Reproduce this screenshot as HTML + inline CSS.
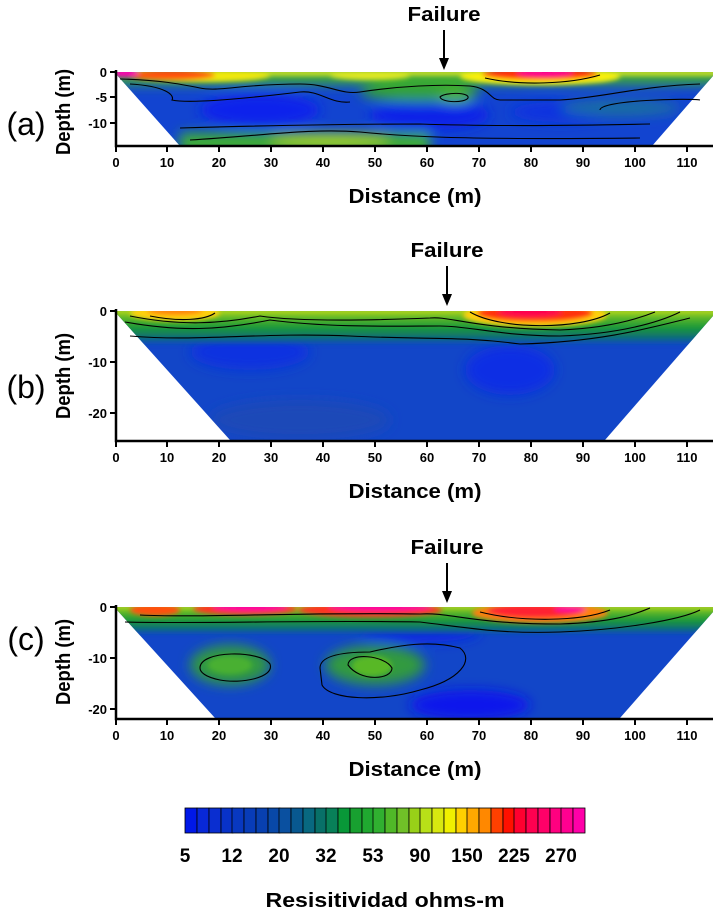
<!DOCTYPE html>
<html><head><meta charset="utf-8"><style>
body{margin:0;background:#fff;}
svg text{font-family:"Liberation Sans",Arial,sans-serif;}
</style></head><body>
<svg width="723" height="914" viewBox="0 0 723 914" xmlns="http://www.w3.org/2000/svg">
<defs>
<filter id="b1" x="-50%" y="-50%" width="200%" height="200%"><feGaussianBlur stdDeviation="6"/></filter>
<filter id="b2" x="-50%" y="-50%" width="200%" height="200%"><feGaussianBlur stdDeviation="2.5"/></filter>
<clipPath id="ca"><polygon points="116,72 713,72 713,76 652,146 180,146 116,74"/></clipPath>
<clipPath id="cb"><polygon points="116,311 713,311 713,316 605,440 230,440 116,313"/></clipPath>
<clipPath id="cc"><polygon points="116,607 713,607 713,612 620,718 215,718 116,609"/></clipPath>
<linearGradient id="gb" x1="0" y1="0" x2="0" y2="1">
<stop offset="0" stop-color="#d8e810"/><stop offset="0.25" stop-color="#60b828"/><stop offset="0.55" stop-color="#189838"/><stop offset="0.8" stop-color="#107070"/><stop offset="1" stop-color="#1048c0"/>
</linearGradient>
</defs>

<!-- Panel a -->
<g clip-path="url(#ca)">
<rect x="110" y="70" width="610" height="80" fill="#1244d0"/>
<g filter="url(#b1)">
<ellipse cx="260" cy="110" rx="60" ry="16" fill="#0a22ec"/>
<ellipse cx="430" cy="115" rx="60" ry="15" fill="#0a24e8"/>
<ellipse cx="560" cy="112" rx="50" ry="10" fill="#0a30e0"/>
<rect x="180" y="133" width="250" height="20" fill="#40b030"/>
<ellipse cx="330" cy="140" rx="60" ry="6" fill="#a8d820"/>
<rect x="110" y="68" width="610" height="16" fill="#40b030"/>
<ellipse cx="420" cy="92" rx="60" ry="10" fill="#30a038"/>
<ellipse cx="455" cy="97" rx="18" ry="6" fill="#50b828"/>
<ellipse cx="620" cy="108" rx="60" ry="8" fill="#1a70a0"/>
</g>
<g filter="url(#b2)">
<rect x="110" y="70" width="610" height="6" fill="#c8e020"/>
<ellipse cx="200" cy="76" rx="70" ry="6" fill="#f0e810"/>
<ellipse cx="170" cy="75" rx="45" ry="5" fill="#ff5010"/>
<ellipse cx="125" cy="73" rx="14" ry="4" fill="#ff00b0"/>
<ellipse cx="540" cy="77" rx="80" ry="8" fill="#f8f010"/>
<ellipse cx="540" cy="74" rx="58" ry="6" fill="#ff3010"/>
<ellipse cx="545" cy="73" rx="28" ry="4" fill="#ff0090"/>
<ellipse cx="370" cy="76" rx="40" ry="4" fill="#e0e820"/>
</g>
</g>
<g fill="none" stroke="#000" stroke-width="1.1">
<path d="M120,79 C160,80 180,84 200,88 C220,92 240,84 300,84 C330,84 340,95 360,92 C400,86 440,84 470,86 C490,88 490,100 500,100 L560,100 C600,98 640,86 700,84"/>
<path d="M130,84 C165,86 175,95 172,100 C190,104 250,98 300,92 C320,90 330,104 350,102"/>
<path d="M180,128 C250,126 350,124 420,124 C480,126 560,126 650,124"/>
<path d="M190,140 C260,136 310,128 360,132 C400,136 450,140 640,138"/>
<path d="M440,97 C445,92 470,92 468,98 C465,103 442,103 440,97Z"/>
<path d="M485,78 C520,86 570,84 600,75"/>
<path d="M600,110 C600,100 690,98 700,100"/>
</g>

<!-- Panel b -->
<g clip-path="url(#cb)">
<rect x="110" y="305" width="610" height="140" fill="#1246c8"/>
<g filter="url(#b1)">
<ellipse cx="510" cy="370" rx="45" ry="25" fill="#0a2ee4"/>
<ellipse cx="250" cy="352" rx="60" ry="18" fill="#0a30e0"/>
<ellipse cx="300" cy="420" rx="90" ry="20" fill="#1a48b8"/>
</g>
<rect x="110" y="308" width="610" height="36" fill="url(#gb)" filter="url(#b2)"/>
<g filter="url(#b2)">
<ellipse cx="175" cy="313" rx="45" ry="8" fill="#ffd010"/>
<ellipse cx="175" cy="311" rx="28" ry="4" fill="#ff8010"/>
<ellipse cx="535" cy="315" rx="72" ry="12" fill="#ffd010"/>
<ellipse cx="535" cy="313" rx="58" ry="9" fill="#ff3010"/>
<ellipse cx="530" cy="312" rx="32" ry="5" fill="#ff0050"/>
</g>
</g>
<g fill="none" stroke="#000" stroke-width="1.1">
<path d="M130,336 C200,342 260,332 350,336 C430,340 460,336 520,344 C600,342 650,328 690,318"/>
<path d="M125,322 C180,332 220,330 270,320 C330,328 400,326 440,326 C470,326 500,336 560,336 C620,334 660,322 680,312"/>
<path d="M130,316 C180,326 220,324 260,316 C300,322 380,320 430,318 C450,316 470,328 560,330 C610,328 640,318 655,312"/>
<path d="M150,316 C180,322 205,320 215,313"/>
<path d="M470,312 C500,330 580,330 610,313"/>
</g>

<!-- Panel c -->
<g clip-path="url(#cc)">
<rect x="110" y="600" width="610" height="125" fill="#1246c8"/>
<g filter="url(#b1)">
<ellipse cx="470" cy="705" rx="60" ry="15" fill="#0a18ec"/>
<ellipse cx="420" cy="632" rx="60" ry="10" fill="#0a28e4"/>
<ellipse cx="230" cy="665" rx="40" ry="20" fill="#309a40"/>
<ellipse cx="375" cy="665" rx="50" ry="20" fill="#309a40"/>
</g>
<rect x="110" y="604" width="610" height="30" fill="url(#gb)" filter="url(#b2)"/>
<g filter="url(#b2)">
<ellipse cx="230" cy="665" rx="22" ry="9" fill="#48b030"/>
<ellipse cx="372" cy="666" rx="20" ry="10" fill="#58b828"/>
<ellipse cx="155" cy="610" rx="25" ry="6" fill="#ff5010"/>
<ellipse cx="245" cy="609" rx="52" ry="6" fill="#ff3020"/>
<ellipse cx="250" cy="607" rx="38" ry="4" fill="#ff00a0"/>
<ellipse cx="370" cy="610" rx="72" ry="7" fill="#ff3020"/>
<ellipse cx="380" cy="607" rx="52" ry="4" fill="#ff00a0"/>
<ellipse cx="540" cy="613" rx="68" ry="10" fill="#ff8010"/>
<ellipse cx="535" cy="611" rx="48" ry="7" fill="#ff2030"/>
<ellipse cx="570" cy="609" rx="16" ry="3" fill="#ff00a0"/>
</g>
</g>
<g fill="none" stroke="#000" stroke-width="1.1">
<path d="M125,622 C200,624 300,620 420,622 C470,628 500,634 560,632 C620,630 680,620 700,610"/>
<path d="M140,615 C200,618 300,612 420,614 C450,612 470,624 560,624 C620,622 640,612 650,608"/>
<path d="M480,612 C520,622 580,622 610,610"/>
<path d="M200,668 C200,650 260,650 270,664 C275,678 240,684 220,680 C205,677 200,672 200,668Z"/>
<path d="M320,668 C320,655 345,652 370,652 C400,645 430,640 460,648 C475,660 460,680 420,690 C380,702 330,700 322,685Z"/>
<path d="M348,665 C348,652 385,655 392,668 C392,680 360,682 348,665Z"/>
</g>

<!-- Axes -->
<g stroke="#000" stroke-width="2.5" fill="none">
<path d="M116,70 V146 H713"/>
<path d="M116,309 V441 H713"/>
<path d="M116,605 V719 H713"/>
</g>
<g stroke="#000" stroke-width="2">
<path d="M110,72H116 M110,97H116 M110,123H116"/>
<path d="M110,311H116 M110,362H116 M110,413H116"/>
<path d="M110,607H116 M110,658H116 M110,709H116"/>
</g>
<g stroke="#000" stroke-width="2">
<path d="M116,146v6 M167,146v6 M219,146v6 M271,146v6 M323,146v6 M375,146v6 M427,146v6 M479,146v6 M531,146v6 M583,146v6 M635,146v6 M687,146v6"/>
<path d="M116,441v6 M167,441v6 M219,441v6 M271,441v6 M323,441v6 M375,441v6 M427,441v6 M479,441v6 M531,441v6 M583,441v6 M635,441v6 M687,441v6"/>
<path d="M116,719v6 M167,719v6 M219,719v6 M271,719v6 M323,719v6 M375,719v6 M427,719v6 M479,719v6 M531,719v6 M583,719v6 M635,719v6 M687,719v6"/>
</g>
<g font-size="13" font-weight="bold" text-anchor="middle">
<text x="116" y="167">0</text><text x="167" y="167">10</text><text x="219" y="167">20</text><text x="271" y="167">30</text><text x="323" y="167">40</text><text x="375" y="167">50</text><text x="427" y="167">60</text><text x="479" y="167">70</text><text x="531" y="167">80</text><text x="583" y="167">90</text><text x="635" y="167">100</text><text x="687" y="167">110</text>
<text x="116" y="462">0</text><text x="167" y="462">10</text><text x="219" y="462">20</text><text x="271" y="462">30</text><text x="323" y="462">40</text><text x="375" y="462">50</text><text x="427" y="462">60</text><text x="479" y="462">70</text><text x="531" y="462">80</text><text x="583" y="462">90</text><text x="635" y="462">100</text><text x="687" y="462">110</text>
<text x="116" y="740">0</text><text x="167" y="740">10</text><text x="219" y="740">20</text><text x="271" y="740">30</text><text x="323" y="740">40</text><text x="375" y="740">50</text><text x="427" y="740">60</text><text x="479" y="740">70</text><text x="531" y="740">80</text><text x="583" y="740">90</text><text x="635" y="740">100</text><text x="687" y="740">110</text>
</g>
<g font-size="13" font-weight="bold" text-anchor="end">
<text x="107" y="77">0</text><text x="107" y="102">-5</text><text x="107" y="128">-10</text>
<text x="107" y="316">0</text><text x="107" y="367">-10</text><text x="107" y="418">-20</text>
<text x="107" y="612">0</text><text x="107" y="663">-10</text><text x="107" y="714">-20</text>
</g>
<g font-size="20" font-weight="bold" text-anchor="middle">
<text x="415" y="203" textLength="133" lengthAdjust="spacingAndGlyphs">Distance (m)</text>
<text x="415" y="498" textLength="133" lengthAdjust="spacingAndGlyphs">Distance (m)</text>
<text x="415" y="776" textLength="133" lengthAdjust="spacingAndGlyphs">Distance (m)</text>
<text x="444" y="21" textLength="73" lengthAdjust="spacingAndGlyphs">Failure</text>
<text x="447" y="257" textLength="73" lengthAdjust="spacingAndGlyphs">Failure</text>
<text x="447" y="554" textLength="73" lengthAdjust="spacingAndGlyphs">Failure</text>
<text transform="translate(70,112) rotate(-90)" textLength="86" lengthAdjust="spacingAndGlyphs">Depth (m)</text>
<text transform="translate(70,376) rotate(-90)" textLength="86" lengthAdjust="spacingAndGlyphs">Depth (m)</text>
<text transform="translate(70,662) rotate(-90)" textLength="86" lengthAdjust="spacingAndGlyphs">Depth (m)</text>
<text x="385" y="907" textLength="239" lengthAdjust="spacingAndGlyphs">Resisitividad ohms-m</text>
</g>
<g font-size="32" text-anchor="middle">
<text x="26" y="135">(a)</text>
<text x="26" y="398">(b)</text>
<text x="26" y="650">(c)</text>
</g>
<g stroke="#000" stroke-width="2">
<path d="M444,30V60 M447,266V296 M447,563V593"/>
</g>
<g fill="#000">
<polygon points="439,58 449,58 444,70"/>
<polygon points="442,294 452,294 447,306"/>
<polygon points="442,591 452,591 447,603"/>
</g>

<!-- Colorbar -->
<g stroke="#000" stroke-width="0.8">
<rect x="185" y="808" width="12" height="25" fill="#0018e8"/><rect x="197" y="808" width="12" height="25" fill="#0828d8"/><rect x="209" y="808" width="12" height="25" fill="#0a2ed0"/><rect x="221" y="808" width="12" height="25" fill="#0832c8"/><rect x="232" y="808" width="12" height="25" fill="#0838c0"/><rect x="244" y="808" width="12" height="25" fill="#083cb8"/><rect x="256" y="808" width="12" height="25" fill="#0840b0"/><rect x="268" y="808" width="12" height="25" fill="#0848a8"/><rect x="279" y="808" width="12" height="25" fill="#0a50a0"/><rect x="291" y="808" width="12" height="25" fill="#085890"/><rect x="303" y="808" width="12" height="25" fill="#086880"/><rect x="315" y="808" width="12" height="25" fill="#087068"/><rect x="326" y="808" width="12" height="25" fill="#088058"/><rect x="338" y="808" width="12" height="25" fill="#089838"/><rect x="350" y="808" width="12" height="25" fill="#18a030"/><rect x="362" y="808" width="12" height="25" fill="#20a830"/><rect x="373" y="808" width="12" height="25" fill="#30b030"/><rect x="385" y="808" width="12" height="25" fill="#50b828"/><rect x="397" y="808" width="12" height="25" fill="#70c028"/><rect x="409" y="808" width="12" height="25" fill="#98d018"/><rect x="420" y="808" width="12" height="25" fill="#b8e018"/><rect x="432" y="808" width="12" height="25" fill="#d8e810"/><rect x="444" y="808" width="12" height="25" fill="#f0f000"/><rect x="456" y="808" width="12" height="25" fill="#ffd000"/><rect x="467" y="808" width="12" height="25" fill="#ffa800"/><rect x="479" y="808" width="12" height="25" fill="#ff8800"/><rect x="491" y="808" width="12" height="25" fill="#ff4000"/><rect x="503" y="808" width="12" height="25" fill="#ff1000"/><rect x="514" y="808" width="12" height="25" fill="#ff0030"/><rect x="526" y="808" width="12" height="25" fill="#ff0050"/><rect x="538" y="808" width="12" height="25" fill="#ff0068"/><rect x="550" y="808" width="12" height="25" fill="#ff0080"/><rect x="561" y="808" width="12" height="25" fill="#ff0090"/><rect x="573" y="808" width="12" height="25" fill="#ff00a8"/>
</g>
<g font-size="19" font-weight="bold" text-anchor="middle">
<text x="185" y="862">5</text><text x="232" y="862">12</text><text x="279" y="862">20</text><text x="326" y="862">32</text><text x="373" y="862">53</text><text x="420" y="862">90</text><text x="467" y="862">150</text><text x="514" y="862">225</text><text x="561" y="862">270</text>
</g>
</svg>
</body></html>
